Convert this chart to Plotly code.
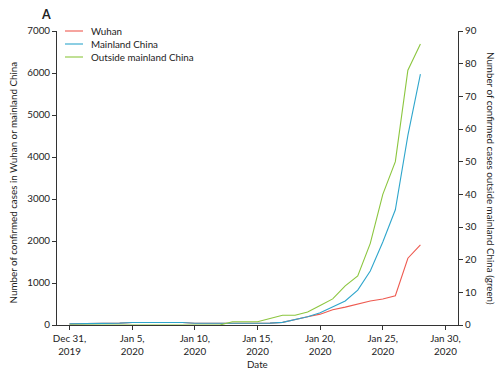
import plotly.graph_objects as go

dates = ["2019-12-31"] + [f"2020-01-{d:02d}" for d in range(1, 29)]

wuhan = [27, 27, 27, 44, 44, 59, 59, 59, 59, 59, 41, 41, 41, 41, 41, 41,
         45, 62, 121, 198, 258, 363, 425, 495, 572, 618, 698, 1590, 1905]
mainland = [27, 27, 27, 44, 44, 59, 59, 59, 59, 59, 41, 41, 41, 41, 41, 41,
            45, 62, 121, 198, 291, 440, 571, 830, 1287, 1975, 2744, 4515, 5974]
outside = [0, 0, 0, 0, 0, 0, 0, 0, 0, 0, 0, 0, 0, 1, 1, 1,
           2, 3, 3, 4, 6, 8, 12, 15, 25, 40, 50, 78, 86]

tick_dates = ["2019-12-31", "2020-01-05", "2020-01-10", "2020-01-15",
              "2020-01-20", "2020-01-25", "2020-01-30"]
tick_text = ["Dec 31,<br>2019", "Jan 5,<br>2020", "Jan 10,<br>2020", "Jan 15,<br>2020",
             "Jan 20,<br>2020", "Jan 25,<br>2020", "Jan 30,<br>2020"]

series_names = ["Wuhan", "Mainland China", "Outside mainland China"]
colors = ["#ee5a50", "#2fa6cc", "#8cc63f"]

FONT = "Lato"
TXT = "#222222"
FS = 9.8

fig = go.Figure()
fig.add_trace(go.Scatter(x=dates, y=wuhan, mode="lines", name=series_names[0],
                         line=dict(color=colors[0], width=1.1), yaxis="y"))
fig.add_trace(go.Scatter(x=dates, y=mainland, mode="lines", name=series_names[1],
                         line=dict(color=colors[1], width=1.1), yaxis="y"))
fig.add_trace(go.Scatter(x=dates, y=outside, mode="lines", name=series_names[2],
                         line=dict(color=colors[2], width=1.1), yaxis="y2"))

axis_common = dict(showgrid=False, zeroline=False, showline=True, linecolor="#333333",
                   linewidth=1, ticks="outside", ticklen=4, tickcolor="#333333",
                   tickfont=dict(family=FONT, size=FS, color=TXT))

PW, PH = 401, 294  # plot area size in px

fig.update_layout(
    width=495, height=364,
    margin=dict(l=49, r=45, t=23, b=47),
    paper_bgcolor="white", plot_bgcolor="white",
    showlegend=False,
    font=dict(family=FONT, size=FS, color=TXT),
    xaxis=dict(range=["2019-12-30", "2020-01-31"], tickvals=tick_dates, ticktext=tick_text,
               **axis_common),
    yaxis=dict(range=[0, 7000], tickvals=[0, 1000, 2000, 3000, 4000, 5000, 6000, 7000],
               **axis_common),
    yaxis2=dict(range=[0, 90], overlaying="y", side="right",
                tickvals=[0, 10, 20, 30, 40, 50, 60, 70, 80, 90], **axis_common),
)

ann = []
ann.append(dict(text="<b>A</b>", xref="paper", yref="paper", x=-11 / PW, y=1 + 16 / PH,
                xanchor="center", yanchor="middle", showarrow=False,
                font=dict(family=FONT, size=12.5, color=TXT)))
ann.append(dict(text="Date", xref="paper", yref="paper", x=0.5, y=-39 / PH,
                xanchor="center", yanchor="middle", showarrow=False,
                font=dict(family=FONT, size=FS, color=TXT)))
ann.append(dict(text="Number of confirmed cases in Wuhan or mainland China",
                xref="paper", yref="paper", x=-44 / PW, y=0.485, textangle=-90,
                xanchor="center", yanchor="middle", showarrow=False,
                font=dict(family=FONT, size=FS, color=TXT)))
ann.append(dict(text="Number of confirmed cases outside mainland China (green)",
                xref="paper", yref="paper", x=1 + 33 / PW, y=0.5, textangle=90,
                xanchor="center", yanchor="middle", showarrow=False,
                font=dict(family=FONT, size=FS, color=TXT)))

# manual legend
shapes = []
for i, (nm, c) in enumerate(zip(series_names, colors)):
    yy = 1.0 - i * 13 / PH
    shapes.append(dict(type="line", xref="paper", yref="paper",
                       x0=8 / PW, x1=26 / PW, y0=yy, y1=yy,
                       line=dict(color=c, width=1.1)))
    ann.append(dict(text=nm, xref="paper", yref="paper", x=32 / PW, y=yy,
                    xanchor="left", yanchor="middle", showarrow=False,
                    font=dict(family=FONT, size=FS, color=TXT)))

fig.update_layout(annotations=ann, shapes=shapes)
fig.write_html("out.html")
